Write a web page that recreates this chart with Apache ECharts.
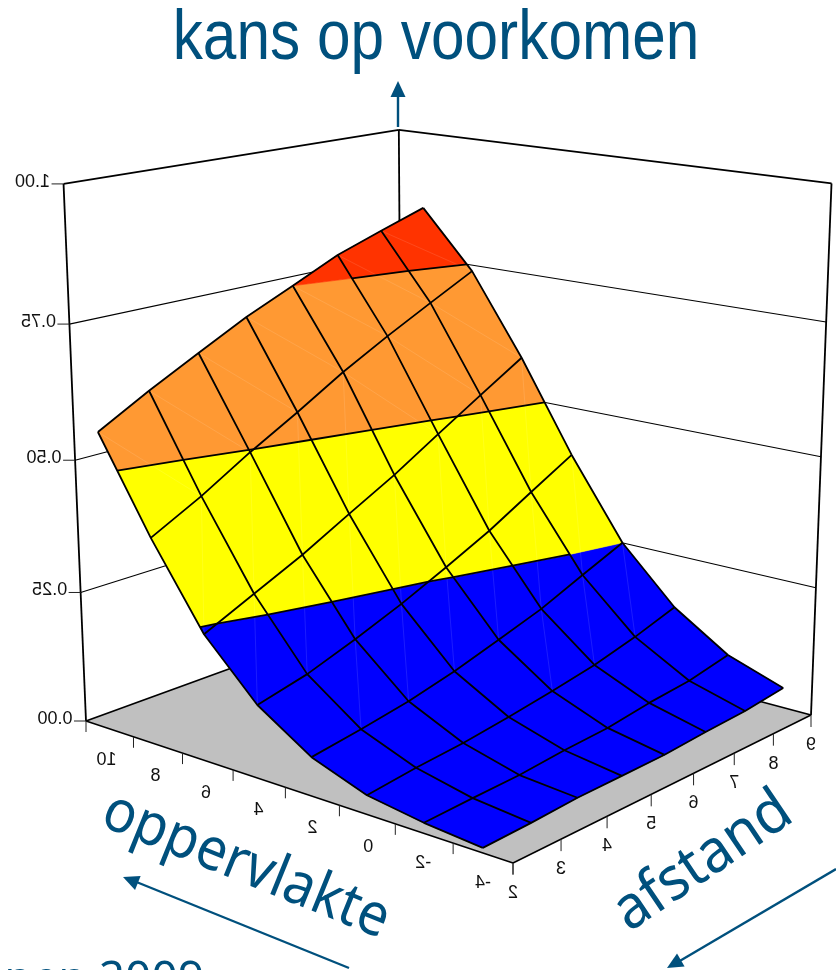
<!DOCTYPE html>
<html><head><meta charset="utf-8"><style>html,body{margin:0;background:#fff}#c{width:836px;height:970px}</style>
<script src="https://cdn.jsdelivr.net/npm/echarts@6/dist/echarts.min.js"></script></head>
<body><div id="c"></div>
<script>
// ---- data ----
var oppervlakte = [-3, -1, 1, 3, 5, 7, 9, 11];
var afstand = [2, 3, 4, 5, 6, 7, 8, 9];
var kans_o_m3 = [0.009, 0.012, 0.017, 0.018, 0.019, 0.025, 0.029, 0.039];
var kans_o_m1 = [0.019, 0.023, 0.026, 0.034, 0.039, 0.051, 0.059, 0.076];
var kans_o_1  = [0.035, 0.046, 0.054, 0.066, 0.080, 0.096, 0.118, 0.145];
var kans_o_3  = [0.072, 0.086, 0.102, 0.124, 0.151, 0.179, 0.215, 0.250];
var kans_o_5  = [0.137, 0.159, 0.191, 0.226, 0.266, 0.308, 0.357, 0.405];
var kans_o_7  = [0.239, 0.282, 0.325, 0.374, 0.422, 0.476, 0.529, 0.581];
var kans_o_9  = [0.391, 0.440, 0.496, 0.547, 0.601, 0.649, 0.694, 0.738];
var kans_o_11 = [0.563, 0.615, 0.663, 0.710, 0.750, 0.791, 0.821, 0.850];
var kans = [kans_o_m3, kans_o_m1, kans_o_1, kans_o_3, kans_o_5, kans_o_7, kans_o_9, kans_o_11];
var zTicks = [0, 0.25, 0.5, 0.75, 1];
var zLabels = ['0.00', '0.25', '0.50', '0.75', '1.00'];
var oppTicks = [10, 8, 6, 4, 2, 0, -2, -4];
var afsTicks = [2, 3, 4, 5, 6, 7, 8, 9];
var bandLevels = [0, 0.25, 0.5, 0.75, 1];
var bandColors = ['#0000ff', '#ffff00', '#ff9933', '#ff3300'];
var oMin = -4, oMax = 12, aMin = 2, aMax = 9;
var TEXT = '#00507d';

// ---- viewing transform (perspective camera of the 3D box) ----
var cam = {F:[513,863], L:[86,721], B:[402,606], R:[811,715], TL:[64,184], TB:[398,131], TR:[832,182]};
function solve(A,b){var n=b.length;A=A.map(function(r,i){return r.concat([b[i]])});
  for(var i=0;i<n;i++){var p=i;for(var k=i;k<n;k++)if(Math.abs(A[k][i])>Math.abs(A[p][i]))p=k;var t=A[i];A[i]=A[p];A[p]=t;
    for(k=0;k<n;k++){if(k==i)continue;var f=A[k][i]/A[i][i];for(var m=i;m<=n;m++)A[k][m]-=f*A[i][m];}}
  return A.map(function(r,i){return r[n]/r[i]});}
var M=[],Y=[];
[[0,0,cam.F],[1,0,cam.L],[1,1,cam.B],[0,1,cam.R]].forEach(function(p){var u=p[0],v=p[1],x=p[2][0],y=p[2][1];
  M.push([u,v,1,0,0,0,-u*x,-v*x]);Y.push(x);M.push([0,0,0,u,v,1,-u*y,-v*y]);Y.push(y);});
var h=solve(M,Y);
function N(u,v){return [h[0]*u+h[1]*v+h[2],h[3]*u+h[4]*v+h[5],h[6]*u+h[7]*v+1];}
var q=(function(){var AA=[],BB=[];
  [[1,0,cam.TL],[1,1,cam.TB],[0,1,cam.TR]].forEach(function(t){var n=N(t[0],t[1]),x=t[2][0],y=t[2][1];
    AA.push([1,0,-x]);BB.push(x*n[2]-n[0]);AA.push([0,1,-y]);BB.push(y*n[2]-n[1]);});
  var S=[[0,0,0],[0,0,0],[0,0,0]],T=[0,0,0];
  AA.forEach(function(r,i){for(var a=0;a<3;a++){T[a]+=r[a]*BB[i];for(var b=0;b<3;b++)S[a][b]+=r[a]*r[b];}});
  return solve(S,T);})();
function project(o,a,z){var n=N((o-oMin)/(oMax-oMin),(a-aMin)/(aMax-aMin));var d=n[2]+q[2]*z;
  return [(n[0]+q[0]*z)/d,(n[1]+q[1]*z)/d];}

// ---- surface helpers ----
function lerp(p,r,t){return [p[0]+(r[0]-p[0])*t,p[1]+(r[1]-p[1])*t,p[2]+(r[2]-p[2])*t];}
function clipBand(poly,lo,hi){
  function clip(pts,inside,level){var out=[];
    for(var i=0;i<pts.length;i++){var p=pts[i],r=pts[(i+1)%pts.length],ip=inside(p[2]),ir=inside(r[2]);
      if(ip)out.push(p);
      if(ip!==ir)out.push(lerp(p,r,(level-p[2])/(r[2]-p[2])));}
    return out;}
  var a=clip(poly,function(z){return z>=lo},lo);
  return a.length?clip(a,function(z){return z<=hi},hi):a;
}
function cellCorners(i,j){return [[oppervlakte[i],afstand[j],kans[i][j]],[oppervlakte[i+1],afstand[j],kans[i+1][j]],
  [oppervlakte[i+1],afstand[j+1],kans[i+1][j+1]],[oppervlakte[i],afstand[j+1],kans[i][j+1]]];}

var cells=[];for(var ci=0;ci<7;ci++)for(var cj=0;cj<7;cj++)cells.push([ci,cj]);
var meshLines=[];
oppervlakte.forEach(function(o,i){meshLines.push(afstand.map(function(a,j){return [o,a,kans[i][j]]}))});
afstand.forEach(function(a,j){meshLines.push(oppervlakte.map(function(o,i){return [o,a,kans[i][j]]}))});

// box frame: [from, to, width]
var frame=[
 [[oMax,aMin,0],[oMax,aMin,1],1.8],[[oMax,aMax,0],[oMax,aMax,1],1.8],[[oMin,aMax,0],[oMin,aMax,1],1.8],
 [[oMax,aMin,1],[oMax,aMax,1],1.8],[[oMax,aMax,1],[oMin,aMax,1],1.8],
 [[oMax,aMin,0],[oMax,aMax,0],1.8],[[oMax,aMax,0],[oMin,aMax,0],1.8],
 [[oMax,aMin,0],[oMin,aMin,0],1.5],[[oMin,aMin,0],[oMin,aMax,0],1.5]];
zTicks.slice(1,4).forEach(function(z){frame.push([[oMax,aMin,z],[oMax,aMax,z],1.1]);frame.push([[oMax,aMax,z],[oMin,aMax,z],1.1]);});

// ticks: [anchor, dx, dy]
var ticks=[];
zTicks.forEach(function(z){ticks.push([[oMax,aMin,z],-12,0]);});
oppTicks.concat([oMax]).forEach(function(o){ticks.push([[o,aMin,0],0,11]);});
afsTicks.forEach(function(a){ticks.push([[oMin,a,0],0,12]);});

// mirrored tick labels: [text, anchor, dx, dy]
var labels=[];
zTicks.forEach(function(z,i){labels.push([zLabels[i],[oMax,aMin,z],-31,-2]);});
oppTicks.forEach(function(o){labels.push([String(o),[o,aMin,0],o<0?-30:-27,o<0?20:23]);});
afsTicks.forEach(function(a){labels.push([String(a),[oMin,a,0],0,30]);});

function idx(arr){return arr.map(function(_,i){return [i,0]});}
function pts(api,list){return list.map(function(p){return api.coord(project(p[0],p[1],p[2]))});}
function base(name,z,data,render){return {type:'custom',name:name,z:z,data:data,renderItem:render,silent:true,clip:false,animation:false,coordinateSystem:'cartesian2d'};}

var series=[
 base('floor',1,[[0,0]],function(p,api){
   return {type:'polygon',shape:{points:pts(api,[[oMin,aMin,0],[oMax,aMin,0],[oMax,aMax,0],[oMin,aMax,0]])},style:{fill:'#c0c0c0'}};}),
 base('frame',2,idx(frame),function(p,api){var s=frame[p.dataIndex];
   return {type:'polyline',shape:{points:pts(api,[s[0],s[1]])},style:{stroke:'#000',lineWidth:s[2],fill:null}};}),
 base('ticks',2,idx(ticks),function(p,api){var t=ticks[p.dataIndex],a=pts(api,[t[0]])[0];
   return {type:'polyline',shape:{points:[a,[a[0]+t[1],a[1]+t[2]]]},style:{stroke:'#222',lineWidth:1,fill:null}};}),
 base('labels',3,idx(labels),function(p,api){var t=labels[p.dataIndex],a=pts(api,[t[1]])[0];
   return {type:'text',x:a[0]+t[2],y:a[1]+t[3],scaleX:-1,style:{text:t[0],fontSize:18,fontFamily:'Liberation Sans',fill:'#111',align:'center',verticalAlign:'middle'}};}),
 base('surface',4,idx(cells),function(p,api){var c=cells[p.dataIndex],poly=cellCorners(c[0],c[1]),kids=[];
   for(var b=0;b<bandColors.length;b++){var cl=clipBand(poly,bandLevels[b],bandLevels[b+1]);
     if(cl.length>2)kids.push({type:'polygon',shape:{points:pts(api,cl)},style:{fill:bandColors[b],stroke:bandColors[b],lineWidth:0.6}});}
   var mean=(poly[0][2]+poly[1][2]+poly[2][2]+poly[3][2])/4;
   if(mean>0.12){
     var diag=mean>0.5?[poly[1],poly[3]]:[poly[0],poly[2]];
     kids.push({type:'polyline',shape:{points:pts(api,diag)},style:{stroke:'rgba(255,255,255,0.16)',lineWidth:0.7,fill:null}});
   }
   return {type:'group',children:kids};}),
 base('contours',5,idx(cells),function(p,api){var c=cells[p.dataIndex],poly=cellCorners(c[0],c[1]),kids=[];
   bandLevels.slice(1,4).forEach(function(l){var x=[];
     for(var i=0;i<4;i++){var s=poly[i],r=poly[(i+1)%4];if((s[2]-l)*(r[2]-l)<0)x.push(lerp(s,r,(l-s[2])/(r[2]-s[2])));}
     if(x.length>=2)kids.push({type:'polyline',shape:{points:pts(api,x.slice(0,2))},style:{stroke:'#000',lineWidth:1.8,fill:null}});});
   return {type:'group',children:kids};}),
 base('mesh',6,idx(meshLines),function(p,api){
   return {type:'polyline',shape:{points:pts(api,meshLines[p.dataIndex])},style:{stroke:'#000',lineWidth:1.8,fill:null,lineJoin:'round'}};})
];

function arrowLine(a,b){return {type:'line',shape:{x1:a[0],y1:a[1],x2:b[0],y2:b[1]},style:{stroke:TEXT,lineWidth:2.4},z:20};}
function arrowHead(tip,from,len,w){var dx=tip[0]-from[0],dy=tip[1]-from[1],d=Math.hypot(dx,dy);dx/=d;dy/=d;
  var bx=tip[0]-dx*len,by=tip[1]-dy*len;
  return {type:'polygon',shape:{points:[tip,[bx-dy*w,by+dx*w],[bx+dy*w,by-dx*w]]},style:{fill:TEXT},z:20};}
function lbl(t,x,y,rotDeg,font,sx,align){return {type:'text',x:x,y:y,rotation:rotDeg*Math.PI/180,scaleX:sx||1,z:20,
  style:{text:t,font:font,fill:TEXT,align:align||'center',verticalAlign:'middle'}};}

var chart=echarts.init(document.getElementById('c'),null,{renderer:'canvas'});
chart.setOption({
  animation:false,
  grid:{left:0,right:0,top:0,bottom:0},
  xAxis:{type:'value',min:0,max:836,show:false},
  yAxis:{type:'value',min:0,max:970,inverse:true,show:false},
  series:series,
  graphic:{elements:[
    lbl('kans op voorkomen',436,39,0,'71px "Liberation Sans"',0.85),
    lbl('oppervlakte',246,866,-22,'59px "Noto Sans"',0.92),
    lbl('afstand',703,862,34,'60px "Noto Sans"',0.95),
    {type:'text',x:204,y:981,z:20,style:{text:'open 2009',font:'46px "Noto Sans"',fill:TEXT,align:'right',verticalAlign:'middle'}},
    arrowLine([398,127],[398,94]),arrowHead([398,81],[398,127],16,7.5),
    arrowLine([349,968],[134,881]),arrowHead([123,877],[349,968],16,7.5),
    arrowLine([836,869],[678,962]),arrowHead([667,968],[836,869],16,7.5)
  ]}
});
</script></body></html>
